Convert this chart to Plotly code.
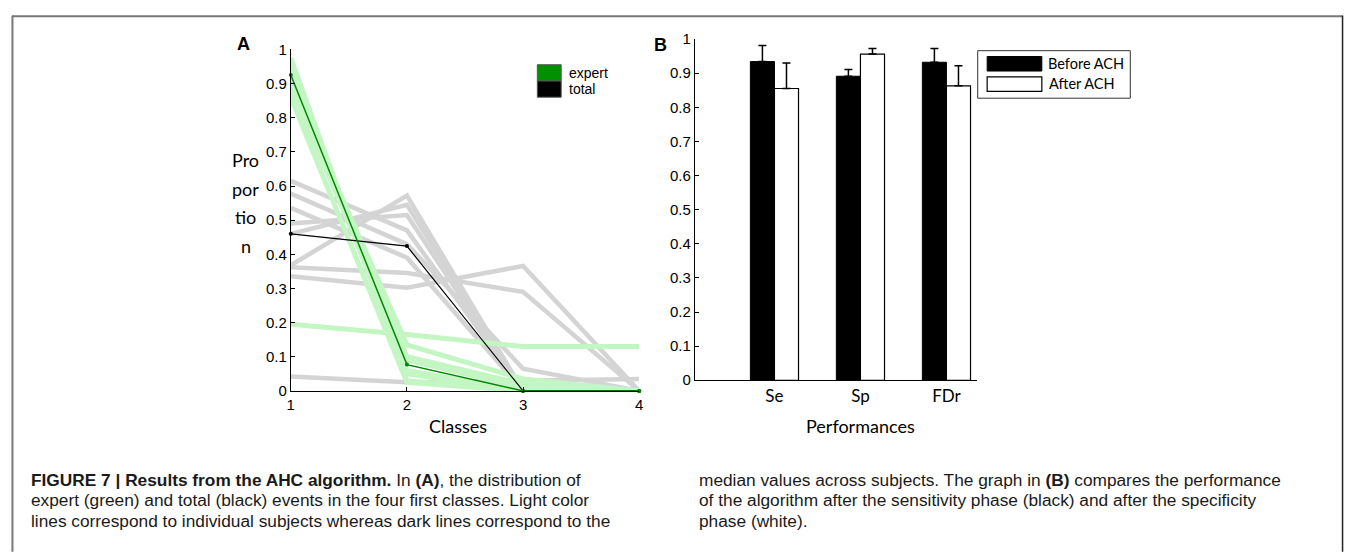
import plotly.graph_objects as go

W, H = 1355, 554

# ---------------- Panel A data ----------------
classes = [1, 2, 3, 4]
total_subjects = [
    [0.615, 0.47, 0.0, 0.0],
    [0.578, 0.43, 0.065, 0.0],
    [0.536, 0.39, 0.0, 0.0],
    [0.49, 0.515, 0.0, 0.0],
    [0.46, 0.545, 0.0, 0.0],
    [0.368, 0.572, 0.0, 0.0],
    [0.362, 0.345, 0.29, 0.0],
    [0.336, 0.302, 0.366, 0.0],
    [0.042, 0.025, 0.03, 0.035],
]
expert_subjects = [
    [0.195, 0.165, 0.13, 0.13],
    [0.975, 0.03, 0.0, 0.0],
    [0.955, 0.05, 0.0, 0.0],
    [0.935, 0.09, 0.01, 0.0],
    [0.905, 0.135, 0.035, 0.0],
    [0.885, 0.10, 0.02, 0.0],
    [0.86, 0.025, 0.0, 0.0],
    [0.92, 0.06, 0.0, 0.0],
]
expert_median = [0.925, 0.077, 0.0, 0.0]
total_median = [0.46, 0.424, 0.0, 0.0]
a_yticks = [0, 0.1, 0.2, 0.3, 0.4, 0.5, 0.6, 0.7, 0.8, 0.9, 1]
a_yticktext = ["0", "0.1", "0.2", "0.3", "0.4", "0.5", "0.6", "0.7", "0.8", "0.9", "1"]

# ---------------- Panel B data ----------------
perf_labels = ["Se", "Sp", "FDr"]
perf_pos = [1, 2, 3]
before_vals = [0.934, 0.891, 0.932]
before_err = [0.047, 0.020, 0.040]
after_vals = [0.855, 0.956, 0.863]
after_err = [0.075, 0.016, 0.059]

GRAY = "rgb(212,212,212)"
LGREEN = "rgb(196,246,196)"
DGREEN = "rgb(0,135,0)"
TICKFONT = dict(family="Liberation Sans, Arial", size=15, color="black")
CAL = "Lato, Open Sans, sans-serif"

fig = go.Figure()

for s in total_subjects:
    fig.add_trace(go.Scatter(x=classes, y=s, mode="lines", line=dict(color=GRAY, width=4.5),
                             showlegend=False, hoverinfo="skip", xaxis="x", yaxis="y"))
for s in expert_subjects:
    fig.add_trace(go.Scatter(x=classes, y=s, mode="lines", line=dict(color=LGREEN, width=5),
                             showlegend=False, hoverinfo="skip", xaxis="x", yaxis="y"))
fig.add_trace(go.Scatter(x=classes, y=total_median, mode="lines+markers",
                         line=dict(color="black", width=1.2), marker=dict(color="black", size=4),
                         showlegend=False, cliponaxis=False, xaxis="x", yaxis="y"))
fig.add_trace(go.Scatter(x=classes, y=expert_median, mode="lines+markers",
                         line=dict(color=DGREEN, width=1.5), marker=dict(color=DGREEN, size=4),
                         showlegend=False, cliponaxis=False, xaxis="x", yaxis="y"))

bw = 0.28
fig.add_trace(go.Bar(x=perf_pos, y=before_vals, width=bw, offset=-bw,
                     marker=dict(color="black", line=dict(color="black", width=1)),
                     error_y=dict(type="data", symmetric=False, array=before_err,
                                  arrayminus=[0, 0, 0], color="black", thickness=1.5, width=4),
                     showlegend=False, xaxis="x2", yaxis="y2"))
fig.add_trace(go.Bar(x=perf_pos, y=after_vals, width=bw, offset=0,
                     marker=dict(color="white", line=dict(color="black", width=1.2)),
                     error_y=dict(type="data", symmetric=False, array=after_err,
                                  arrayminus=[0, 0, 0], color="black", thickness=1.5, width=4),
                     showlegend=False, xaxis="x2", yaxis="y2"))


def px(x):
    return x / W


def py(y):
    return 1 - y / H


axis_common = dict(showgrid=False, zeroline=False, showline=True, linecolor="black",
                   linewidth=1, ticks="inside", ticklen=4, tickcolor="black",
                   tickfont=TICKFONT)

fig.update_layout(
    width=W, height=H, margin=dict(l=0, r=0, t=0, b=0),
    plot_bgcolor="white", paper_bgcolor="white", barmode="overlay",
    showlegend=False,
    xaxis=dict(domain=[px(288.5), px(639)], range=[1, 4], tickvals=classes,
               ticktext=["1", "2", "3", "4"], anchor="y", **axis_common),
    yaxis=dict(domain=[py(394), py(41.7)], range=[0, 1], tickvals=a_yticks,
               ticktext=a_yticktext, anchor="x", **axis_common),
    xaxis2=dict(domain=[px(695), px(979)], range=[0.075, 3.358], tickvals=perf_pos,
                ticktext=perf_labels, anchor="y2",
                **{**axis_common, "ticks": "", "tickfont": dict(family=CAL, size=17, color="black")}),
    yaxis2=dict(domain=[py(383), py(31)], range=[0, 1], tickvals=a_yticks,
                ticktext=a_yticktext, anchor="x2", **axis_common),
)

shapes = []
# figure frame
shapes.append(dict(type="line", xref="paper", yref="paper", x0=px(8), x1=px(1347), y0=py(7.5), y1=py(7.5),
                   line=dict(color="#777777", width=2)))
shapes.append(dict(type="line", xref="paper", yref="paper", x0=px(8.5), x1=px(8.5), y0=py(7), y1=py(560),
                   line=dict(color="#777777", width=2)))
shapes.append(dict(type="line", xref="paper", yref="paper", x0=px(1346.5), x1=px(1346.5), y0=py(7), y1=py(560),
                   line=dict(color="#222222", width=1.5)))
# legend A swatches
shapes.append(dict(type="rect", xref="paper", yref="paper", x0=px(536.5), x1=px(560.5), y0=py(74.3), y1=py(57.5),
                   fillcolor="rgb(0,145,0)", line=dict(color="#555555", width=1)))
shapes.append(dict(type="rect", xref="paper", yref="paper", x0=px(536.5), x1=px(560.5), y0=py(91), y1=py(74.3),
                   fillcolor="black", line=dict(color="#555555", width=1)))
# legend B
shapes.append(dict(type="rect", xref="paper", yref="paper", x0=px(979.5), x1=px(1133), y0=py(92), y1=py(43),
                   fillcolor="white", line=dict(color="#333333", width=1)))
shapes.append(dict(type="rect", xref="paper", yref="paper", x0=px(989), x1=px(1044), y0=py(64), y1=py(49),
                   fillcolor="black", line=dict(color="black", width=1)))
shapes.append(dict(type="rect", xref="paper", yref="paper", x0=px(989), x1=px(1044), y0=py(85), y1=py(70),
                   fillcolor="white", line=dict(color="black", width=1.2)))
fig.update_layout(shapes=shapes)

ann = []


def add_text(x, y, text, size, family, xanchor="center", bold=False, color="black"):
    ann.append(dict(xref="paper", yref="paper", x=px(x), y=py(y), text=("<b>%s</b>" % text) if bold else text,
                    showarrow=False, xanchor=xanchor, yanchor="middle",
                    font=dict(size=size, family=family, color=color)))


add_text(241, 36, "A", 18, "Liberation Sans, Arial", bold=True)
add_text(660, 37, "B", 18, "Liberation Sans, Arial", bold=True)
add_text(457, 430, "Classes", 18, CAL)
add_text(862, 430, "Performances", 18, CAL)
for t, yy in zip(["Pro", "por", "tio", "n"], [156, 186, 215, 244]):
    add_text(243, yy, t, 18, CAL)
add_text(566, 66, "expert", 14, "Liberation Sans, Arial", xanchor="left")
add_text(566, 83, "total", 14, "Liberation Sans, Arial", xanchor="left")
add_text(1048, 56, "Before ACH", 14.5, CAL, xanchor="left")
add_text(1049, 77, "After ACH", 14.5, CAL, xanchor="left")

CAPF = "Liberation Sans Narrow, Arial Narrow, Liberation Sans, Arial"
cap_left = [
    "<b>FIGURE 7 | Results from the AHC algorithm.</b> In <b>(A)</b>, the distribution of",
    "expert (green) and total (black) events in the four first classes. Light color",
    "lines correspond to individual subjects whereas dark lines correspond to the",
]
cap_right = [
    "median values across subjects. The graph in <b>(B)</b> compares the performance",
    "of the algorithm after the sensitivity phase (black) and after the specificity",
    "phase (white).",
]
for i, (l, r) in enumerate(zip(cap_left, cap_right)):
    yy = 486 + 21 * i
    add_text(25, yy, l, 17.3, CAPF, xanchor="left", color="#1a1a1a")
    add_text(697, yy, r, 17.3, CAPF, xanchor="left", color="#1a1a1a")

fig.update_layout(annotations=ann)
fig.write_html("out.html")
